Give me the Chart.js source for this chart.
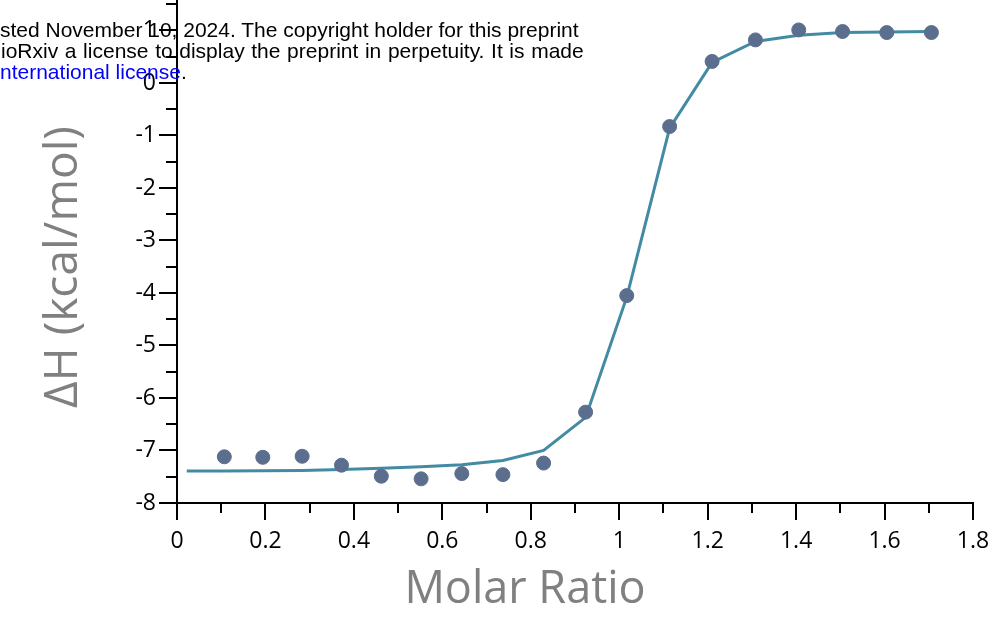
<!DOCTYPE html>
<html>
<head>
<meta charset="utf-8">
<script src="https://cdn.jsdelivr.net/npm/chart.js@4.4.1/dist/chart.umd.min.js"></script>
<style>
  html, body { margin: 0; padding: 0; background: #fff; }
  #wrap { position: relative; width: 998px; height: 633px; overflow: hidden; }
  #itc { position: absolute; left: 0; top: 0; }
  .note {
    position: absolute; left: 0; white-space: nowrap;
    font-family: "Liberation Sans", Arial, sans-serif; font-size: 21px; color: #000;
    line-height: 1;
  }
  .note a { color: #0000ff; text-decoration: none; }
</style>
</head>
<body>
<div id="wrap">
  <canvas id="itc" width="998" height="633"></canvas>
  <div class="note" style="top:19px; left:0px;">sted November 10, 2024. The copyright holder for this preprint</div>
  <div class="note" style="top:40px; left:1px; word-spacing:0.8px;">ioRxiv a license to display the preprint in perpetuity. It is made</div>
  <div class="note" style="top:61px; left:0px;"><a>nternational license</a>.</div>
</div>
<script>
// injection data (molar ratio vs. heat per mole)
var molarRatio = [0.107, 0.194, 0.283, 0.372, 0.462, 0.552, 0.644, 0.737, 0.829, 0.924, 1.017, 1.114, 1.210, 1.308, 1.406, 1.505, 1.605, 1.706];
var deltaH = [-7.12, -7.13, -7.11, -7.28, -7.49, -7.54, -7.44, -7.46, -7.24, -6.27, -4.05, -0.83, 0.41, 0.82, 1.01, 0.98, 0.96, 0.96];

// fitted binding curve
var fitRatio = [0.022, 0.107, 0.194, 0.283, 0.372, 0.462, 0.552, 0.644, 0.737, 0.829, 0.924, 1.017, 1.114, 1.210, 1.308, 1.406, 1.505, 1.605, 1.706];
var fitDeltaH = [-7.39, -7.39, -7.385, -7.38, -7.36, -7.34, -7.31, -7.27, -7.19, -7.0, -6.37, -4.08, -0.86, 0.39, 0.79, 0.91, 0.96, 0.97, 0.98];

var xTitle = 'Molar Ratio';
var yTitle = 'ΔH (kcal/mol)';

var tickFont = { family: '"Open Sans", sans-serif', size: 23 };

function toPoints(xs, ys) {
  return xs.map(function (x, i) { return { x: x, y: ys[i] }; });
}

function plainNumber(value) {
  return String(Math.round(value * 100) / 100);
}

// draws major + minor tick marks outside the axes
var tickMarks = {
  id: 'tickMarks',
  afterDraw: function (chart) {
    var ctx = chart.ctx;
    var xs = chart.scales.x, ys = chart.scales.y;
    var area = chart.chartArea;
    ctx.save();
    ctx.strokeStyle = '#000';
    ctx.lineWidth = 2;
    ctx.beginPath();
    for (var i = 0; i <= 18; i++) {
      var px = Math.round(xs.getPixelForValue(i / 10));
      var len = i % 2 === 0 ? 17 : 10;
      ctx.moveTo(px, area.bottom);
      ctx.lineTo(px, area.bottom + len);
    }
    for (var j = 0; j <= 19; j++) {
      var v = -8 + j * 0.5;
      var py = Math.round(ys.getPixelForValue(v));
      var l = j % 2 === 0 ? 18 : 11;
      ctx.moveTo(area.left, py);
      ctx.lineTo(area.left - l, py);
    }
    ctx.stroke();
    ctx.restore();
  }
};

// axis titles sit a bit off-center in this layout
var axisTitles = {
  id: 'axisTitles',
  afterDraw: function (chart) {
    var ctx = chart.ctx;
    ctx.save();
    ctx.fillStyle = '#808080';
    ctx.textAlign = 'center';
    ctx.textBaseline = 'middle';
    ctx.font = '45px "Open Sans", sans-serif';
    ctx.fillText(xTitle, 525, 590);
    ctx.font = '46px "Open Sans", sans-serif';
    ctx.translate(64, 267);
    ctx.rotate(-Math.PI / 2);
    ctx.fillText(yTitle, 0, 0);
    ctx.restore();
  }
};

new Chart(document.getElementById('itc'), {
  type: 'scatter',
  data: {
    datasets: [{
      type: 'scatter',
      data: toPoints(molarRatio, deltaH),
      backgroundColor: '#5b6e8d',
      borderColor: '#5b6e8d',
      pointRadius: 7,
      pointHoverRadius: 7,
      order: 1
    }, {
      type: 'line',
      data: toPoints(fitRatio, fitDeltaH),
      borderColor: '#428ba2',
      borderWidth: 3,
      pointRadius: 0,
      fill: false,
      tension: 0,
      order: 2
    }]
  },
  options: {
    responsive: false,
    animation: false,
    layout: { autoPadding: false, padding: { left: 0, right: 25, top: 0, bottom: 0 } },
    plugins: {
      legend: { display: false },
      tooltip: { enabled: false }
    },
    scales: {
      x: {
        type: 'linear',
        min: 0,
        max: 1.8,
        ticks: { stepSize: 0.2, color: '#000', font: tickFont, padding: 8, maxRotation: 0, callback: plainNumber },
        grid: { drawOnChartArea: false, tickLength: 17, tickColor: 'transparent' },
        border: { color: '#000', width: 2 },
        afterFit: function (scale) {
          scale.height = 130;
          scale.paddingLeft = 0;
          scale.paddingRight = 0;
        }
      },
      y: {
        min: -8,
        max: 1.58,
        ticks: { stepSize: 1, color: '#000', font: tickFont, padding: 3, callback: plainNumber },
        grid: { drawOnChartArea: false, tickLength: 18, tickColor: 'transparent' },
        border: { color: '#000', width: 2 },
        afterBuildTicks: function (scale) {
          scale.ticks = scale.ticks.filter(function (t) { return Number.isInteger(t.value); });
        },
        afterFit: function (scale) {
          scale.width = 177;
          scale.paddingTop = 0;
          scale.paddingBottom = 0;
        }
      }
    }
  },
  plugins: [tickMarks, axisTitles]
});
</script>
</body>
</html>
